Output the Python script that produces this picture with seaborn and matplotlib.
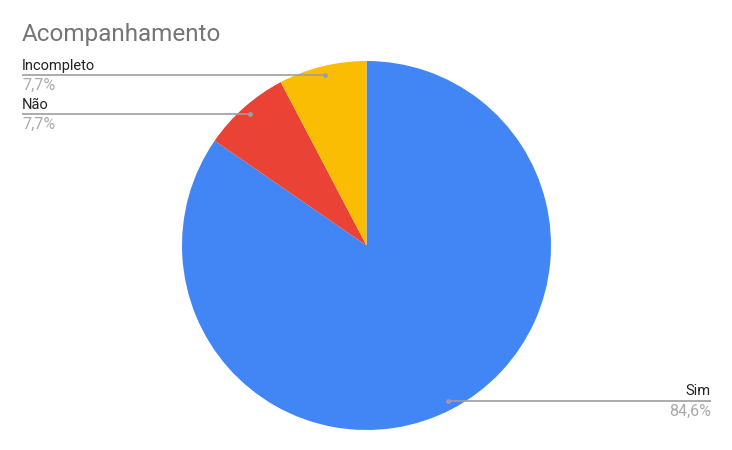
import numpy as np
import seaborn as sns
import matplotlib.pyplot as plt

# data
labels = ['Sim', 'Não', 'Incompleto']
counts = [11, 1, 1]
pct_text = ['84,6%', '7,7%', '7,7%']
colors = ['#4285F4', '#EA4335', '#FBBC04']

sns.set_theme(style='white')
plt.rcParams['font.family'] = ['Roboto', 'DejaVu Sans']

W, H = 732, 450
fig = plt.figure(figsize=(W / 100, H / 100), dpi=100)
ax = fig.add_axes([0, 0, 1, 1])

cx, cy, R = 366.5, H - 245.5, 184.5
wedges, _ = ax.pie(counts, colors=colors, startangle=90, counterclock=False,
                   center=(cx, cy), radius=R, frame=True,
                   wedgeprops=dict(linewidth=0))
ax.set_xlim(0, W)
ax.set_ylim(0, H)
ax.set_axis_off()

fig.text(22 / W, 1 - 41 / H, 'Acompanhamento', fontsize=17.5, color='#757575',
         ha='left', va='baseline')

# label placement: (text x, alignment) per slice
label_pos = {'Sim': (711, 'right'), 'Não': (22, 'left'), 'Incompleto': (22, 'left')}
line_col = '#9e9e9e'
for w, lab, pct in zip(wedges, labels, pct_text):
    mid = np.deg2rad((w.theta1 + w.theta2) / 2)
    px = cx + 0.95 * R * np.cos(mid)
    py = cy + 0.95 * R * np.sin(mid)
    tx, ha = label_pos[lab]
    ax.plot([px, tx], [py, py], color=line_col, lw=1.2, solid_capstyle='butt')
    ax.plot(px, py, 'o', color=line_col, ms=3.5, mec='none')
    ax.text(tx, py + 2.5, lab, ha=ha, va='bottom', fontsize=10.5, color='#222222')
    ax.text(tx, py - 3, pct, ha=ha, va='top', fontsize=11.5, color='#aaaaaa')

fig.savefig('out.png', dpi=100)
